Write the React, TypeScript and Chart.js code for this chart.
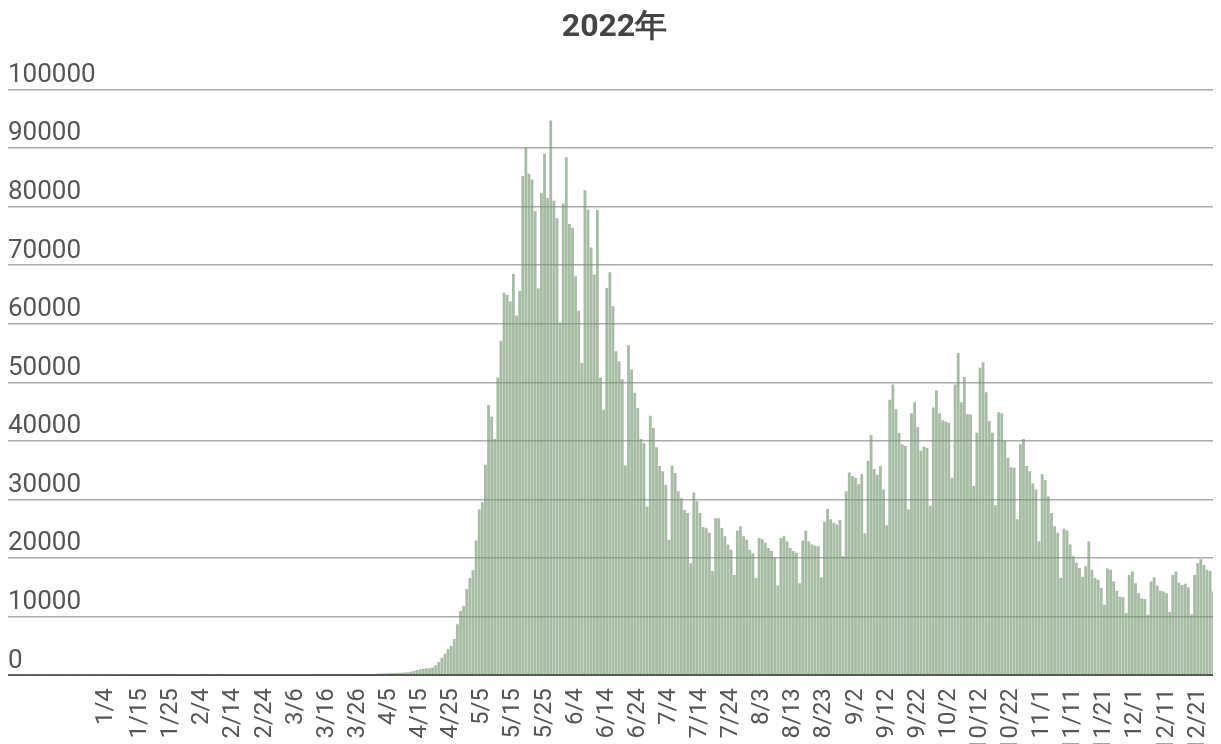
import React, { useEffect, useRef } from "react";
import { Chart, registerables } from "chart.js";

Chart.register(...registerables);

const TITLE = "2022年";

// Daily values, one array per month (first category is 2021-12-04, last 2022-12-28)
const DEC_2021 = [18, 22, 15, 20, 25, 17, 19, 23, 21, 16, 24, 20, 18, 26, 22, 19, 21, 27, 24, 20, 23, 28, 25, 22, 30, 26, 24, 29];
const JAN_2022 = [31, 27, 35, 40, 38, 33, 45, 50, 47, 42, 55, 60, 52, 48, 58, 62, 57, 66, 70, 65, 90, 110, 125, 130, 120, 115, 85, 75, 70, 68, 72];
const FEB_2022 = [65, 70, 78, 95, 115, 105, 80, 72, 90, 110, 100, 75, 68, 64, 60, 58, 62, 55, 52, 57, 60, 54, 50, 56, 58, 61, 63, 66];
const MAR_2022 = [70, 64, 75, 71, 83, 78, 86, 80, 92, 88, 97, 90, 103, 96, 108, 112, 99, 110, 117, 109, 122, 115, 128, 131, 140, 150, 162, 168, 175, 184, 196];
const APR_2022 = [220, 260, 265, 310, 325, 360, 375, 410, 415, 460, 480, 560, 690, 880, 1010, 1080, 1160, 1190, 1310, 1690, 2230, 2980, 3650, 4480, 5020, 6180, 8680, 10970, 11810, 14690];
const MAY_2022 = [16600, 17900, 23000, 28300, 29500, 35900, 46100, 44100, 40300, 50800, 57100, 65300, 64900, 63800, 68500, 61400, 65600, 85200, 90000, 85600, 84600, 79200, 66000, 82300, 89000, 81500, 94700, 81000, 78000, 60200, 80500];
const JUN_2022 = [88400, 77000, 76400, 68100, 62200, 53300, 82800, 79500, 73000, 68400, 79400, 50800, 45300, 66100, 68800, 63000, 55300, 53600, 50500, 35800, 56300, 52200, 48200, 45600, 40300, 39600, 28800, 44300, 42200, 38900];
const JUL_2022 = [35700, 34800, 32500, 23100, 35800, 34500, 31400, 30200, 28200, 27700, 19100, 31200, 29700, 27700, 25300, 25100, 24300, 17800, 26800, 26800, 25100, 23700, 22300, 21400, 17100, 24700, 25400, 23700, 23100, 21400, 20800];
const AUG_2022 = [16600, 23400, 23200, 22600, 21700, 21200, 20100, 15300, 23400, 23700, 22800, 21700, 21200, 20900, 15700, 23000, 24700, 22800, 22300, 22100, 22000, 16700, 26200, 28400, 26600, 26000, 25700, 26500, 20300, 31400, 34600];
const SEP_2022 = [34000, 33700, 32600, 34300, 24200, 36600, 41000, 35200, 34200, 35700, 31700, 25600, 47000, 49600, 45400, 41400, 39400, 39100, 28300, 44700, 46600, 42300, 38300, 39000, 38800, 28900, 45700, 48600, 44700, 43500];
const OCT_2022 = [43300, 43100, 33700, 49600, 55000, 46600, 50900, 44600, 44500, 32300, 41400, 52500, 53400, 48300, 43400, 41400, 29000, 44900, 44700, 40000, 37100, 35500, 35400, 26600, 39400, 40300, 35700, 34800, 32700, 31700, 22800];
const NOV_2022 = [34300, 33300, 30500, 27700, 25400, 24300, 16600, 25000, 24700, 22300, 20300, 19200, 18300, 16800, 18600, 22800, 18000, 16600, 16300, 14900, 12000, 18200, 18000, 16000, 14400, 13400, 13300, 10600, 17100, 17700];
const DEC_2022 = [15700, 14000, 13100, 13000, 10300, 16000, 16700, 15300, 14400, 14300, 14000, 10800, 17100, 17700, 15800, 15400, 15600, 15000, 10400, 17100, 19100, 19800, 18800, 18000, 17800, 14300, 24600, 28000];

const MONTHS: { year: number; month: number; firstDay: number; values: number[] }[] = [
  { year: 2021, month: 12, firstDay: 4, values: DEC_2021 },
  { year: 2022, month: 1, firstDay: 1, values: JAN_2022 },
  { year: 2022, month: 2, firstDay: 1, values: FEB_2022 },
  { year: 2022, month: 3, firstDay: 1, values: MAR_2022 },
  { year: 2022, month: 4, firstDay: 1, values: APR_2022 },
  { year: 2022, month: 5, firstDay: 1, values: MAY_2022 },
  { year: 2022, month: 6, firstDay: 1, values: JUN_2022 },
  { year: 2022, month: 7, firstDay: 1, values: JUL_2022 },
  { year: 2022, month: 8, firstDay: 1, values: AUG_2022 },
  { year: 2022, month: 9, firstDay: 1, values: SEP_2022 },
  { year: 2022, month: 10, firstDay: 1, values: OCT_2022 },
  { year: 2022, month: 11, firstDay: 1, values: NOV_2022 },
  { year: 2022, month: 12, firstDay: 1, values: DEC_2022 },
];

const TICK_LABELS = [
  "1/4", "1/15", "1/25", "2/4", "2/14", "2/24", "3/6", "3/16", "3/26", "4/5", "4/15", "4/25",
  "5/5", "5/15", "5/25", "6/4", "6/14", "6/24", "7/4", "7/14", "7/24", "8/3", "8/13", "8/23",
  "9/2", "9/12", "9/22", "10/2", "10/12", "10/22", "11/1", "11/11", "11/21", "12/1", "12/11", "12/21",
];

const Y_MAX = 100000;
const Y_STEP = 10000;

const CATEGORIES: string[] = [];
const VALUES: number[] = [];
MONTHS.forEach((m) => {
  m.values.forEach((v, k) => {
    CATEGORIES.push(`${m.year}/${m.month}/${m.firstDay + k}`);
    VALUES.push(v);
  });
});

const TICK_SET = new Set(TICK_LABELS.map((t) => `2022/${t}`));

export default function App() {
  const canvasRef = useRef<HTMLCanvasElement | null>(null);

  useEffect(() => {
    document.documentElement.style.overflow = "hidden";
    document.body.style.overflow = "hidden";
    if (!canvasRef.current) return;
    const chart = new Chart(canvasRef.current, {
      type: "bar",
      data: {
        labels: CATEGORIES,
        datasets: [
          {
            data: VALUES,
            backgroundColor: "rgba(118,150,113,0.64)",
            borderWidth: 0,
            barPercentage: 0.9,
            categoryPercentage: 1,
          },
        ],
      },
      options: {
        animation: false,
        responsive: true,
        maintainAspectRatio: false,
        layout: { padding: 0 },
        plugins: {
          legend: { display: false },
          tooltip: { enabled: false },
          title: {
            display: true,
            text: TITLE,
            color: "#444",
            font: { family: "Roboto", size: 32, weight: "bold" },
            padding: { top: 1, bottom: 42 },
          },
        },
        scales: {
          x: {
            grid: { display: false, drawTicks: false },
            border: { display: true, color: "#555", width: 2 },
            ticks: {
              autoSkip: false,
              minRotation: 90,
              maxRotation: 90,
              padding: 13,
              color: "#555",
              font: { family: "Roboto", size: 24 },
              callback: (_v: any, index: number) => {
                const c = CATEGORIES[index];
                return TICK_SET.has(c) ? c.slice(5) : "";
              },
            },
            afterFit: (scale: any) => {
              scale.paddingLeft = 0;
              scale.paddingRight = 0;
            },
          },
          y: {
            min: 0,
            max: Y_MAX,
            border: { display: false },
            grid: {
              drawTicks: false,
              color: (ctx: any) => (ctx.tick && ctx.tick.value === 0 ? "#555" : "#ababab"),
              lineWidth: (ctx: any) => (ctx.tick && ctx.tick.value === 0 ? 2 : 1.5),
            },
            ticks: {
              stepSize: Y_STEP,
              mirror: true,
              padding: 0,
              labelOffset: -14,
              color: "#555",
              font: { family: "Roboto", size: 26 },
              callback: (v: any) => String(v),
            },
          },
        },
      },
    });
    return () => chart.destroy();
  }, []);

  return (
    <div style={{ position: "relative", width: "calc(100vw - 8px)", height: 757 }}>
      <canvas ref={canvasRef} />
    </div>
  );
}
